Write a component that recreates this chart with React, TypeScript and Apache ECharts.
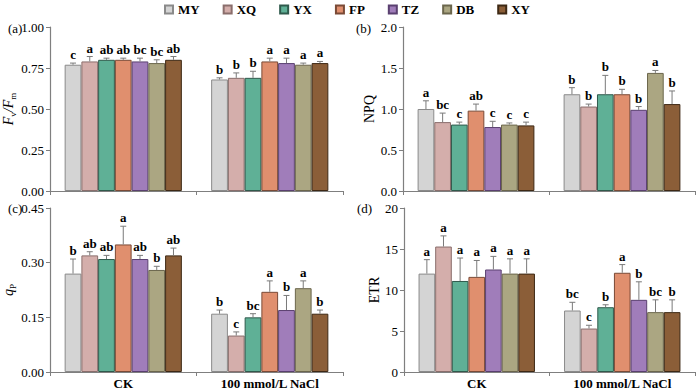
import React, { useEffect, useRef } from "react";
import * as echarts from "echarts";

const categories = ["CK", "100 mmol/L NaCl"];
const seriesNames = ["MY", "XQ", "YX", "FP", "TZ", "DB", "XY"];
const fillColors = ["#d4d4d4", "#d4aeab", "#5fb096", "#e08f6e", "#a07dba", "#aba682", "#8b5e38"];
const borderColors = ["#8a8a8a", "#8a6e6c", "#2f5a4c", "#7a4a36", "#5a4070", "#6b664c", "#3d2814"];

// (a) Fv/Fm
const fvfmCK = [0.77, 0.79, 0.8, 0.8, 0.79, 0.78, 0.8];
const fvfmCKErr = [0.01, 0.03, 0.01, 0.01, 0.02, 0.02, 0.02];
const fvfmNaCl = [0.68, 0.69, 0.69, 0.79, 0.78, 0.77, 0.78];
const fvfmNaClErr = [0.01, 0.03, 0.04, 0.02, 0.03, 0.01, 0.01];
const fvfmLetCK = ["c", "a", "ab", "ab", "bc", "bc", "ab"];
const fvfmLetNaCl = ["b", "b", "b", "a", "a", "a", "a"];

// (b) NPQ
const npqCK = [1.0, 0.84, 0.81, 0.98, 0.78, 0.81, 0.8];
const npqCKErr = [0.1, 0.11, 0.03, 0.08, 0.07, 0.02, 0.04];
const npqNaCl = [1.18, 1.03, 1.18, 1.18, 0.99, 1.44, 1.06];
const npqNaClErr = [0.08, 0.03, 0.23, 0.06, 0.04, 0.03, 0.16];
const npqLetCK = ["a", "bc", "c", "ab", "c", "c", "c"];
const npqLetNaCl = ["b", "b", "b", "b", "b", "a", "b"];

// (c) qP
const qpCK = [0.27, 0.32, 0.31, 0.35, 0.31, 0.28, 0.32];
const qpCKErr = [0.04, 0.01, 0.01, 0.05, 0.01, 0.01, 0.02];
const qpNaCl = [0.16, 0.1, 0.15, 0.22, 0.17, 0.23, 0.16];
const qpNaClErr = [0.01, 0.01, 0.01, 0.03, 0.04, 0.02, 0.01];
const qpLetCK = ["b", "ab", "ab", "a", "ab", "b", "ab"];
const qpLetNaCl = ["b", "c", "bc", "a", "b", "a", "b"];

// (d) ETR
const etrCK = [12.0, 15.3, 11.1, 11.6, 12.5, 12.0, 12.0];
const etrCKErr = [1.7, 1.3, 2.8, 2.0, 1.6, 1.8, 1.8];
const etrNaCl = [7.5, 5.3, 7.9, 12.1, 8.8, 7.3, 7.3];
const etrNaClErr = [1.0, 0.4, 0.3, 1.0, 2.2, 1.5, 1.5];
const etrLetCK = ["a", "a", "a", "a", "a", "a", "a"];
const etrLetNaCl = ["bc", "c", "b", "a", "b", "bc", "b"];

const yTicks = [
  { max: 1.0, interval: 0.25, digits: 2 },
  { max: 2.0, interval: 0.5, digits: 1 },
  { max: 0.45, interval: 0.15, digits: 2 },
  { max: 20, interval: 5, digits: 0 },
];

const FONT = "'Liberation Serif', 'Times New Roman', serif";

const panels = [
  { ck: fvfmCK, ckErr: fvfmCKErr, na: fvfmNaCl, naErr: fvfmNaClErr, lck: fvfmLetCK, lna: fvfmLetNaCl },
  { ck: npqCK, ckErr: npqCKErr, na: npqNaCl, naErr: npqNaClErr, lck: npqLetCK, lna: npqLetNaCl },
  { ck: qpCK, ckErr: qpCKErr, na: qpNaCl, naErr: qpNaClErr, lck: qpLetCK, lna: qpLetNaCl },
  { ck: etrCK, ckErr: etrCKErr, na: etrNaCl, naErr: etrNaClErr, lck: etrLetCK, lna: etrLetNaCl },
];

const grids = [
  { left: 50, top: 27, width: 293, height: 164 },
  { left: 403, top: 27, width: 292, height: 164 },
  { left: 50, top: 208, width: 293, height: 164 },
  { left: 404, top: 208, width: 291, height: 164 },
];

const yNames = [
  { name: "{i|F}{s|v}{i|/F}{s|m}", gap: 24 },
  { name: "NPQ", gap: 23 },
  { name: "{i|q}{s|P}", gap: 27 },
  { name: "ETR", gap: 21 },
];

const panelLabels = [
  { text: "(a)", x: 8, y: 28 },
  { text: "(b)", x: 356, y: 28 },
  { text: "(c)", x: 8, y: 208 },
  { text: "(d)", x: 357, y: 208 },
];

function buildOption() {
  const axisColor = "#7f7f7f";
  const xAxis = grids.map((_, p) => ({
    type: "category",
    gridIndex: p,
    data: categories,
    axisLine: { lineStyle: { color: axisColor, width: 1.2 } },
    axisTick: { show: true, length: 4, lineStyle: { color: axisColor } },
    axisLabel: {
      show: p >= 2,
      color: "#000",
      fontFamily: FONT,
      fontWeight: "bold",
      fontSize: 13,
      margin: 5,
    },
  }));
  const yAxis = grids.map((_, p) => ({
    type: "value",
    gridIndex: p,
    min: 0,
    max: yTicks[p].max,
    interval: yTicks[p].interval,
    splitLine: { show: false },
    axisLine: { show: true, lineStyle: { color: axisColor, width: 1.2 } },
    axisTick: { show: true, length: 4, lineStyle: { color: axisColor } },
    axisLabel: {
      color: "#000",
      fontFamily: FONT,
      fontSize: 13,
      margin: 6,
      formatter: (v: number) => v.toFixed(yTicks[p].digits),
    },
    name: yNames[p].name,
    nameLocation: "middle",
    nameGap: yNames[p].gap,
    nameTextStyle: {
      color: "#000",
      fontFamily: FONT,
      fontSize: 14,
      rich: {
        i: { fontFamily: FONT, fontSize: 14, fontStyle: "italic", color: "#000", verticalAlign: "bottom" },
        s: { fontFamily: FONT, fontSize: 9, color: "#000", verticalAlign: "bottom", padding: [0, 0, -2, 0] },
      },
    },
  }));

  const series: any[] = [];
  panels.forEach((pd, p) => {
    seriesNames.forEach((nm, s) => {
      series.push({
        type: "bar",
        name: nm,
        xAxisIndex: p,
        yAxisIndex: p,
        data: [pd.ck[s], pd.na[s]],
        barGap: "0%",
        barCategoryGap: "20%",
        itemStyle: { color: fillColors[s], borderColor: borderColors[s], borderWidth: 1 },
      });
    });
    const errData: number[][] = [];
    const letters: string[] = [];
    for (let c = 0; c < 2; c++) {
      for (let s = 0; s < 7; s++) {
        const v = c === 0 ? pd.ck[s] : pd.na[s];
        const e = c === 0 ? pd.ckErr[s] : pd.naErr[s];
        errData.push([c, v, v + e, s]);
        letters.push(c === 0 ? pd.lck[s] : pd.lna[s]);
      }
    }
    series.push({
      type: "custom",
      xAxisIndex: p,
      yAxisIndex: p,
      z: 5,
      silent: true,
      encode: { x: 0, y: 2 },
      data: errData,
      renderItem: (params: any, api: any) => {
        const c = api.value(0);
        const v = api.value(1);
        const t = api.value(2);
        const s = api.value(3);
        const base = api.coord([c, v]);
        const top = api.coord([c, t]);
        const band = api.size([1, 0])[0];
        const x = base[0] + (-0.4 + ((s + 0.5) * 0.8) / 7) * band;
        const col = "#7a7a7a";
        return {
          type: "group",
          children: [
            { type: "line", shape: { x1: x, y1: base[1], x2: x, y2: top[1] }, style: { stroke: col, lineWidth: 1 } },
            { type: "line", shape: { x1: x - 3, y1: top[1], x2: x + 3, y2: top[1] }, style: { stroke: col, lineWidth: 1 } },
            {
              type: "text",
              x: x,
              y: top[1] - 2,
              style: {
                text: letters[params.dataIndex],
                align: "center",
                verticalAlign: "bottom",
                textAlign: "center",
                textVerticalAlign: "bottom",
                fontFamily: FONT,
                fontWeight: "bold",
                fontSize: 13,
                fill: "#000",
              },
            },
          ],
        };
      },
    });
  });

  return {
    animation: false,
    backgroundColor: "#fff",
    textStyle: { fontFamily: FONT },
    legend: {
      data: seriesNames,
      top: 0,
      padding: 3,
      left: 161,
      itemWidth: 8,
      itemHeight: 8,
      itemGap: 23,
      icon: "rect",
      textStyle: { fontFamily: FONT, fontWeight: "bold", fontSize: 13, color: "#000" },
    },
    grid: grids,
    xAxis,
    yAxis,
    series,
    graphic: panelLabels.map((l) => ({
      type: "text",
      x: l.x,
      y: l.y,
      style: {
        text: l.text,
        fontFamily: FONT,
        fontSize: 13,
        fill: "#000",
        textVerticalAlign: "middle",
        verticalAlign: "middle",
      },
    })),
  };
}

export default function App() {
  const ref = useRef<HTMLDivElement>(null);
  useEffect(() => {
    if (!ref.current) return;
    const chart = echarts.init(ref.current, undefined, { renderer: "svg" });
    chart.setOption(buildOption() as any);
    return () => chart.dispose();
  }, []);
  return <div ref={ref} style={{ width: 700, height: 391, position: "absolute", left: 0, top: 0 }} />;
}
